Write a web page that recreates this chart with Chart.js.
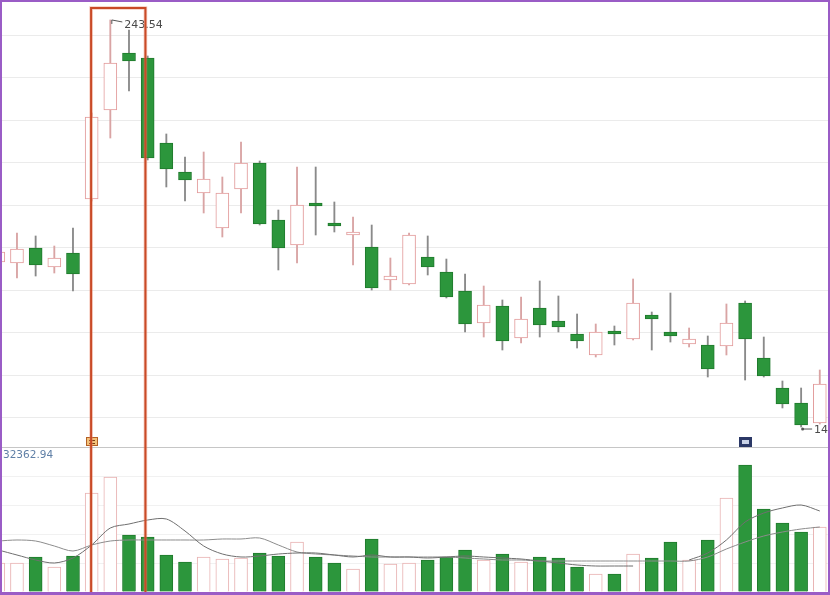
<!DOCTYPE html>
<html>
<head>
<meta charset="utf-8">
<script src="https://cdn.jsdelivr.net/npm/chart.js@4.4.1/dist/chart.umd.min.js"></script>
<style>
  html, body { margin: 0; padding: 0; background: #fff; }
  #frame {
    position: absolute; left: 0; top: 0;
    width: 826px; height: 590px;
    border: 2px solid #9a5cc6; border-bottom-width: 3px;
    overflow: hidden; background: #fff;
  }
  canvas { display: block; }
</style>
</head>
<body>
<div id="frame">
  <canvas id="priceC" width="826" height="445"></canvas>
  <canvas id="volC" width="826" height="145"></canvas>
</div>
<script>
// candles (index 0 is only partly visible on the left edge)
const openP  = [186.59, 186.35, 189.88, 185.41, 188.71, 201.41, 222.35, 235.76, 234.59, 214.59,
                207.76, 202.82, 194.59, 203.76, 209.88, 196.47, 190.59, 200.47, 195.76, 192.94,
                190.12, 182.35, 181.41, 187.76, 184.24, 179.76, 172.24, 176.24, 168.71, 175.76,
                172.71, 169.65, 164.71, 170.35, 168.47, 174.12, 170.12, 167.29, 167.06, 166.82,
                176.94, 164.00, 156.94, 153.41, 148.71];
const closeP = [188.94, 189.65, 185.88, 187.53, 183.76, 220.71, 233.41, 233.88, 211.06, 208.47,
                205.88, 206.12, 202.82, 209.88, 195.53, 189.88, 200.00, 199.76, 195.06, 193.65,
                180.47, 183.29, 192.94, 185.41, 178.35, 172.00, 176.47, 168.00, 173.18, 171.76,
                171.29, 168.00, 170.12, 169.65, 176.94, 173.18, 169.18, 168.47, 161.41, 172.24,
                168.47, 159.76, 153.18, 148.24, 157.88];
const highP  = [190.59, 193.41, 192.71, 190.35, 194.59, 221.65, 243.54, 241.18, 235.06, 216.71,
                211.29, 212.47, 206.59, 214.82, 210.35, 198.82, 208.94, 208.94, 200.71, 197.18,
                195.29, 187.53, 193.41, 192.71, 187.29, 183.76, 180.94, 177.65, 178.35, 182.12,
                178.59, 174.35, 172.00, 171.53, 182.59, 174.82, 179.29, 171.06, 169.18, 176.71,
                177.41, 168.94, 158.59, 156.94, 161.18];
const lowP   = [184.71, 182.82, 183.29, 184.00, 179.76, 200.94, 215.76, 226.82, 210.59, 204.24,
                200.94, 198.12, 192.47, 198.12, 195.29, 184.71, 186.35, 192.94, 193.65, 185.88,
                180.00, 180.00, 181.18, 183.53, 178.12, 170.12, 168.94, 165.88, 167.53, 168.94,
                170.12, 166.35, 164.24, 167.06, 168.24, 165.88, 167.76, 166.59, 159.53, 164.71,
                158.82, 159.53, 152.24, 147.76, 148.47];

// volume panel
const volume = [6609, 6609, 7977, 5698, 8204, 22562, 26209, 12990, 12535, 8432,
                6837, 7977, 7521, 7749, 8888, 8204, 11395, 7977, 6609, 5242,
                12079, 6381, 6609, 7293, 7977, 9572, 7293, 8660, 6837, 7977,
                7749, 5698, 4102, 4102, 8660, 7749, 11395, 7293, 11851, 21423,
                28943, 18916, 15725, 13674, 14814];
const ma5  = [9572, 8432, 7293, 6609, 7749, 10711, 14586, 15497, 16409, 16637,
              13902, 10483, 8660, 7977, 8204, 8660, 8888, 8888, 8432, 7977,
              8432, 7977, 7977, 7749, 7977, 8204, 7977, 7749, 7521, 7065,
              6609, 6153, 5925, 5925, 5925, null, null, 7293, 8888, 11851,
              15953, 18004, 19144, 19827, 18460];
const ma10 = [11623, 11851, 11623, 10483, 9344, 10711, 11623, 11851, 11851, 11851,
              11851, 11851, 12079, 12079, 12307, 10711, 9116, 8660, 8432, 8204,
              7977, 7977, 7977, 7977, 7977, 7749, 7521, 7293, 7293, 7065,
              7065, 7065, 7065, 7065, 7065, 7065, 7065, 7065, 7977, 9800,
              11395, 12762, 13674, 14358, 14814];

const highIdx = 6,  highLabel = '243.54';
const lowIdx  = 43, lowLabel  = '147.76';
const volMaxLabel = '32362.94';
const markIdx = [5, 40];
const boxFrom = 4.97, boxTo = 7.88, boxTopPrice = 246.35;

const idx = openP.map((_, i) => i);
const isUp = i => closeP[i] >= openP[i];

const GREEN = '#2c963c', GREEN_EDGE = '#1f7a2d';
const RED_EDGE = '#e29a9a', VOL_RED_EDGE = '#e8b2b2';

function drawBox(chart, withTop) {
  const { ctx, chartArea: a, scales: { x, y } } = chart;
  const l = x.getPixelForValue(boxFrom), r = x.getPixelForValue(boxTo);
  const t = withTop ? y.getPixelForValue(boxTopPrice) : a.top - 2;
  ctx.save();
  ctx.lineJoin = 'miter';
  [[3.6, 'rgba(235,140,110,0.45)'], [2, '#c94a27']].forEach(([w, c]) => {
    ctx.lineWidth = w; ctx.strokeStyle = c;
    ctx.beginPath();
    ctx.moveTo(l, a.bottom + 2); ctx.lineTo(l, t); ctx.lineTo(r, t); ctx.lineTo(r, a.bottom + 2);
    if (!withTop) { ctx.moveTo(l, t); ctx.moveTo(r, t); }
    ctx.stroke();
  });
  ctx.restore();
}

const priceOverlay = {
  id: 'priceOverlay',
  afterDatasetsDraw(chart) {
    const { ctx, chartArea: a, scales: { x, y } } = chart;
    ctx.save();
    ctx.font = '11px "DejaVu Sans"';
    ctx.textBaseline = 'middle';

    // highest price marker
    const hx = x.getPixelForValue(highIdx), hy = y.getPixelForValue(highP[highIdx]);
    ctx.strokeStyle = '#555'; ctx.lineWidth = 1;
    ctx.beginPath();
    ctx.moveTo(hx + 1.5, hy + 4); ctx.lineTo(hx + 1.5, hy); ctx.lineTo(hx + 12, hy + 2);
    ctx.stroke();
    ctx.fillStyle = '#4a4a4a';
    ctx.fillText(highLabel, hx + 14, hy + 5);

    // lowest price marker
    const lx = x.getPixelForValue(lowIdx), ly = y.getPixelForValue(lowP[lowIdx]);
    ctx.beginPath();
    ctx.moveTo(lx + 1, ly + 2); ctx.lineTo(lx + 11, ly + 2);
    ctx.stroke();
    ctx.beginPath(); ctx.arc(lx + 1.5, ly + 2, 1.5, 0, Math.PI * 2); ctx.fillStyle = '#555'; ctx.fill();
    ctx.fillStyle = '#4a4a4a';
    ctx.fillText(lowLabel, lx + 13, ly + 3);

    // event markers above the separator
    markIdx.forEach((m, k) => {
      const cx = Math.round(x.getPixelForValue(m)), by = a.bottom;
      if (k === 0) {
        ctx.fillStyle = '#f2c27a'; ctx.strokeStyle = '#b35f24';
        ctx.fillRect(cx - 6, by - 10, 12, 9); ctx.strokeRect(cx - 5.5, by - 9.5, 11, 8);
        ctx.fillStyle = '#7a3d14'; ctx.fillRect(cx - 3, by - 7, 6, 1); ctx.fillRect(cx - 3, by - 4, 6, 1);
      } else {
        ctx.fillStyle = '#2b3866';
        ctx.fillRect(cx - 6, by - 10, 13, 10);
        ctx.fillStyle = '#c9d2e6'; ctx.fillRect(cx - 3, by - 7, 7, 4);
      }
    });
    ctx.restore();
    drawBox(chart, true);
  }
};

const volOverlay = {
  id: 'volOverlay',
  afterDatasetsDraw(chart) {
    const { ctx, chartArea: a } = chart;
    ctx.save();
    ctx.strokeStyle = '#c6c6c6'; ctx.lineWidth = 1;
    ctx.beginPath(); ctx.moveTo(a.left, a.top + 0.5); ctx.lineTo(a.right, a.top + 0.5); ctx.stroke();
    ctx.font = '10.5px "DejaVu Sans"';
    ctx.textBaseline = 'middle';
    ctx.fillStyle = '#5f7fa6';
    ctx.fillText(volMaxLabel, a.left + 1, a.top + 8);
    ctx.restore();
    drawBox(chart, false);
  }
};

const xScale = { type: 'linear', min: 0.198, max: 44.44, offset: false, display: false };

new Chart(document.getElementById('priceC'), {
  type: 'bar',
  data: {
    datasets: [
      {
        label: 'body',
        data: idx.map(i => ({ x: i, y: [openP[i], closeP[i]] })),
        backgroundColor: idx.map(i => isUp(i) ? '#ffffff' : GREEN),
        borderColor: idx.map(i => isUp(i) ? RED_EDGE : GREEN_EDGE),
        borderWidth: 1,
        borderSkipped: false,
        barThickness: 13,
        maxBarThickness: 13,
        grouped: false,
        order: 1,
      },
      {
        label: 'wick',
        data: idx.map(i => ({ x: i, y: [lowP[i], highP[i]] })),
        backgroundColor: idx.map(i => isUp(i) ? '#d9a4a4' : '#8a8a8a'),
        borderWidth: 0,
        barThickness: 1.2,
        maxBarThickness: 1.2,
        grouped: false,
        order: 2,
      },
    ],
  },
  options: {
    responsive: false,
    animation: false,
    layout: { padding: 0 },
    plugins: { legend: { display: false }, tooltip: { enabled: false } },
    scales: {
      x: xScale,
      y: {
        min: 143.059, max: 247.765, beginAtZero: false,
        ticks: { display: false, stepSize: 10, includeBounds: false },
        grid: { color: '#ebebeb', drawTicks: false },
        border: { display: false },
      },
    },
  },
  plugins: [priceOverlay],
});

new Chart(document.getElementById('volC'), {
  type: 'bar',
  data: {
    datasets: [
      {
        type: 'line',
        label: 'MA5',
        data: idx.map(i => ({ x: i, y: ma5[i] })),
        borderColor: '#6f6f6f',
        borderWidth: 1,
        pointRadius: 0,
        tension: 0.3,
        spanGaps: false,
        order: 0,
      },
      {
        type: 'line',
        label: 'MA10',
        data: idx.map(i => ({ x: i, y: ma10[i] })),
        borderColor: '#8c8c8c',
        borderWidth: 1,
        pointRadius: 0,
        tension: 0.3,
        order: 0,
      },
      {
        label: 'Volume',
        data: idx.map(i => ({ x: i, y: volume[i] })),
        backgroundColor: idx.map(i => isUp(i) ? '#ffffff' : GREEN),
        borderColor: idx.map(i => isUp(i) ? VOL_RED_EDGE : GREEN_EDGE),
        borderWidth: 1,
        borderSkipped: 'start',
        barThickness: 13,
        maxBarThickness: 13,
        grouped: false,
        order: 1,
      },
    ],
  },
  options: {
    responsive: false,
    animation: false,
    layout: { padding: 0 },
    plugins: { legend: { display: false }, tooltip: { enabled: false } },
    scales: {
      x: xScale,
      y: {
        min: 0, max: 33046,
        ticks: { display: false, stepSize: 7000, includeBounds: false },
        grid: { color: '#f1f1f1', drawTicks: false },
        border: { display: false },
      },
    },
  },
  plugins: [volOverlay],
});
</script>
</body>
</html>
